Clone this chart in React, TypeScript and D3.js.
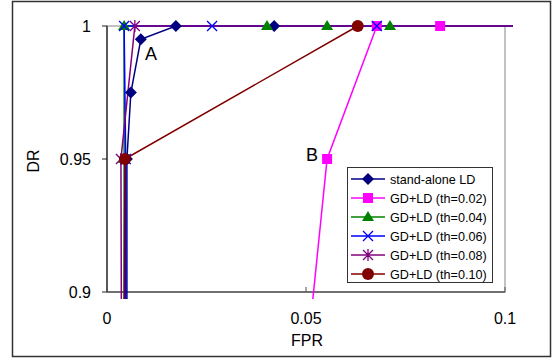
import React from 'react';
import * as d3 from 'd3';

// FPR / DR pairs (points outside the axis range only feed the lines)
const seriesNames = [
  'stand-alone LD',
  'GD+LD (th=0.02)',
  'GD+LD (th=0.04)',
  'GD+LD (th=0.06)',
  'GD+LD (th=0.08)',
  'GD+LD (th=0.10)',
];
const standAloneFpr = [0.005, 0.005, 0.006, 0.0085, 0.0173, 0.042, 0.102];
const standAloneDr = [0.85, 0.95, 0.975, 0.995, 1, 1, 1];
const th002Fpr = [0.0485, 0.0553, 0.0678, 0.0837, 0.102];
const th002Dr = [0.85, 0.95, 1, 1, 1];
const th004Fpr = [0.0043, 0.0043, 0.0043, 0.0402, 0.0553, 0.0711, 0.102];
const th004Dr = [0.85, 0.95, 1, 1, 1, 1, 1];
const th006Fpr = [0.0047, 0.0047, 0.0043, 0.0264, 0.0678, 0.102];
const th006Dr = [0.85, 0.95, 1, 1, 1, 1];
const th008Fpr = [0.0037, 0.0035, 0.007, 0.102];
const th008Dr = [0.85, 0.95, 1, 1];
const th010Fpr = [0.0042, 0.0045, 0.063];
const th010Dr = [0.85, 0.95, 1];

const xTicks = [0, 0.05, 0.1];
const yTicks = [0.9, 0.95, 1];

const colors = ['#000080', '#ff00ff', '#008000', '#0000ff', '#800080', '#800000'];
const markers = ['diamond', 'square', 'triangle', 'x', 'star', 'circle'];

const W = 552;
const H = 358;
const left = 107;
const right = 505;
const top = 26;
const bottom = 292;

const x = d3.scaleLinear().domain([0, 0.1]).range([left, right]);
const y = d3.scaleLinear().domain([0.9, 1]).range([bottom, top]);

const series = [
  [standAloneFpr, standAloneDr],
  [th002Fpr, th002Dr],
  [th004Fpr, th004Dr],
  [th006Fpr, th006Dr],
  [th008Fpr, th008Dr],
  [th010Fpr, th010Dr],
].map(([f, d], i) => ({
  name: seriesNames[i],
  color: colors[i],
  marker: markers[i],
  points: f.map((v, j) => ({ fpr: v, dr: d[j] })),
}));

const line = d3
  .line<{ fpr: number; dr: number }>()
  .x((d) => x(d.fpr))
  .y((d) => y(d.dr));

function Marker({ kind, cx, cy, color }: { kind: string; cx: number; cy: number; color: string }) {
  const s = 5;
  if (kind === 'diamond')
    return <path d={`M${cx},${cy - 6}L${cx + 6},${cy}L${cx},${cy + 6}L${cx - 6},${cy}Z`} fill={color} />;
  if (kind === 'square') return <rect x={cx - s} y={cy - s} width={2 * s} height={2 * s} fill={color} />;
  if (kind === 'triangle')
    return <path d={`M${cx},${cy - 6}L${cx + 6},${cy + 4}L${cx - 6},${cy + 4}Z`} fill={color} />;
  if (kind === 'x')
    return (
      <path d={`M${cx - s},${cy - s}L${cx + s},${cy + s}M${cx - s},${cy + s}L${cx + s},${cy - s}`} stroke={color} strokeWidth={1.3} />
    );
  if (kind === 'star')
    return (
      <path
        d={`M${cx - s},${cy - s}L${cx + s},${cy + s}M${cx - s},${cy + s}L${cx + s},${cy - s}M${cx},${cy - s - 1}L${cx},${cy + s + 1}`}
        stroke={color}
        strokeWidth={1.3}
      />
    );
  return <circle cx={cx} cy={cy} r={6} fill={color} />;
}

export default function App() {
  const font = 'Liberation Sans, Arial, sans-serif';
  const inRange = (p: { fpr: number; dr: number }) => p.fpr <= 0.1 && p.dr >= 0.9;
  return (
    <svg width={W} height={H} style={{ position: 'absolute', left: 0, top: 0 }} fontFamily={font}>
      <defs>
        <clipPath id="plotClip">
          <rect x={left - 10} y={top - 10} width={513 - left + 10} height={299 - top + 10} />
        </clipPath>
      </defs>
      <rect x={12.5} y={1.5} width={538} height={355} fill="white" stroke="#333" strokeWidth={1.5} />

      {/* plot frame */}
      <rect x={left} y={top} width={right - left} height={bottom - top} fill="none" stroke="#999" strokeWidth={1.2} />
      <line x1={left} x2={left} y1={top} y2={bottom} stroke="#222" strokeWidth={1.3} />
      <line x1={left} x2={right} y1={bottom} y2={bottom} stroke="#555" strokeWidth={1.3} />

      {yTicks.map((t) => (
        <g key={t}>
          <line x1={left - 5} x2={left} y1={y(t)} y2={y(t)} stroke="#222" />
          <text x={91} y={y(t) + 6} textAnchor="end" fontSize={16}>
            {t}
          </text>
        </g>
      ))}
      {xTicks.map((t) => (
        <g key={t}>
          <line x1={x(t)} x2={x(t)} y1={bottom} y2={bottom - 5} stroke="#555" />
          <text x={x(t)} y={324} textAnchor="middle" fontSize={16}>
            {t}
          </text>
        </g>
      ))}
      <text x={307} y={346} textAnchor="middle" fontSize={16}>
        FPR
      </text>
      <text transform={`translate(39,161) rotate(-90)`} textAnchor="middle" fontSize={16}>
        DR
      </text>

      <g clipPath="url(#plotClip)">
        {series.map((s) => (
          <path key={s.name} d={line(s.points) || ''} fill="none" stroke={s.color} strokeWidth={1.5} />
        ))}
      </g>
      {series.map((s) => (
        <g key={s.name}>
          {s.points.filter(inRange).map((p, j) => (
            <Marker key={j} kind={s.marker} cx={x(p.fpr)} cy={y(p.dr)} color={s.color} />
          ))}
        </g>
      ))}

      <text x={145} y={60} fontSize={18}>
        A
      </text>
      <text x={306} y={161} fontSize={18}>
        B
      </text>

      {/* legend */}
      <rect x={347.5} y={167.5} width={145} height={115} fill="white" stroke="#333" />
      {series.map((s, i) => {
        const ly = 179 + i * 19;
        return (
          <g key={s.name}>
            <line x1={351} x2={385} y1={ly} y2={ly} stroke={s.color} strokeWidth={1.5} />
            <Marker kind={s.marker} cx={368} cy={ly} color={s.color} />
            <text x={390} y={ly + 4.5} fontSize={12.6}>
              {s.name}
            </text>
          </g>
        );
      })}
    </svg>
  );
}
